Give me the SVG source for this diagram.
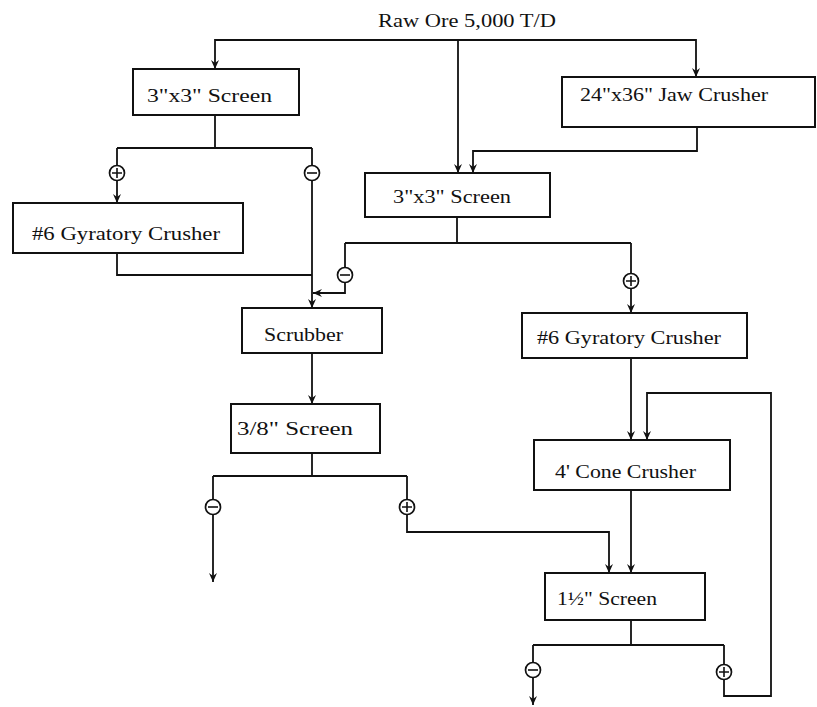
<svg xmlns="http://www.w3.org/2000/svg" width="817" height="707" viewBox="0 0 817 707">
<style>
.box{fill:#fff;stroke:#111;stroke-width:2}
.t{font-family:"Liberation Serif","DejaVu Serif",serif;font-size:19px;fill:#111}
.c{fill:none;stroke:#111;stroke-width:1.8}
.sg{fill:#fff;stroke:#111;stroke-width:1.7}
</style>
<defs>
<marker id="ar" viewBox="0 0 10 10" refX="9" refY="5" markerWidth="10" markerHeight="10" markerUnits="userSpaceOnUse" orient="auto">
<path d="M0,1 L9,5 L0,9 L3,5 Z" fill="#111"/>
</marker>
<g id="plus"><circle r="7.5" class="sg"/><path d="M-5,0 H5 M0,-5 V5" stroke="#111" stroke-width="1.6"/></g>
<g id="minus"><circle r="7.5" class="sg"/><path d="M-5,0 H5" stroke="#111" stroke-width="1.6"/></g>
</defs>
<rect width="817" height="707" fill="#fff"/>
<text class="t" x="378" y="27" textLength="178" lengthAdjust="spacingAndGlyphs">Raw Ore 5,000 T/D</text>
<g id="connectors" class="c">
<path d="M458,40 H215 V69" marker-end="url(#ar)"/>
<path d="M458,40 H696 V77" marker-end="url(#ar)"/>
<path d="M458,40 V173" marker-end="url(#ar)"/>
<path d="M697,127 V151 H473 V173" marker-end="url(#ar)"/>
<path d="M215,115 V148 M117,148 H312 M117,148 V166 M312,148 V166"/>
<path d="M117,180 V203" marker-end="url(#ar)"/>
<path d="M312,180 V308" marker-end="url(#ar)"/>
<path d="M117,253 V275 H312"/>
<path d="M457,217 V243 M345,243 H631 M345,243 V268 M631,243 V274"/>
<path d="M345,282 V293 H313" marker-end="url(#ar)"/>
<path d="M631,288 V313" marker-end="url(#ar)"/>
<path d="M312,353 V404" marker-end="url(#ar)"/>
<path d="M312,453 V476 M213,476 H407 M213,476 V500 M407,476 V500"/>
<path d="M213,514 V582" marker-end="url(#ar)"/>
<path d="M407,514 V532 H609 V573" marker-end="url(#ar)"/>
<path d="M631,358 V440" marker-end="url(#ar)"/>
<path d="M631,490 V573" marker-end="url(#ar)"/>
<path d="M631,620 V645 M533,645 H724 M533,645 V663 M724,645 V665"/>
<path d="M533,677 V705" marker-end="url(#ar)"/>
<path d="M724,679 V696 H771 V393 H647 V440" marker-end="url(#ar)"/>
</g>
<g id="signs">
<use href="#plus" x="117" y="173"/>
<use href="#minus" x="312" y="173"/>
<use href="#minus" x="345" y="275"/>
<use href="#plus" x="631" y="281"/>
<use href="#minus" x="213" y="507"/>
<use href="#plus" x="407" y="507"/>
<use href="#minus" x="533" y="670"/>
<use href="#plus" x="724" y="672"/>
</g>
<g id="screen1"><rect class="box" x="133" y="69" width="166" height="46"/><text class="t" x="147" y="102" textLength="125" lengthAdjust="spacingAndGlyphs">3"x3" Screen</text></g>
<g id="jaw"><rect class="box" x="562" y="77" width="253" height="50"/><text class="t" x="580" y="101" textLength="188" lengthAdjust="spacingAndGlyphs">24"x36" Jaw Crusher</text></g>
<g id="gyratory1"><rect class="box" x="13" y="203" width="230" height="50"/><text class="t" x="32" y="240" textLength="188" lengthAdjust="spacingAndGlyphs">#6 Gyratory Crusher</text></g>
<g id="screen2"><rect class="box" x="365" y="173" width="185" height="44"/><text class="t" x="393" y="203" textLength="118" lengthAdjust="spacingAndGlyphs">3"x3" Screen</text></g>
<g id="gyratory2"><rect class="box" x="522" y="313" width="225" height="45"/><text class="t" x="537" y="344" textLength="184" lengthAdjust="spacingAndGlyphs">#6 Gyratory Crusher</text></g>
<g id="scrubber"><rect class="box" x="242" y="308" width="140" height="45"/><text class="t" x="264" y="341" textLength="79" lengthAdjust="spacingAndGlyphs">Scrubber</text></g>
<g id="screen38"><rect class="box" x="231" y="404" width="149" height="49"/><text class="t" x="237" y="435" textLength="116" lengthAdjust="spacingAndGlyphs">3/8" Screen</text></g>
<g id="cone"><rect class="box" x="534" y="440" width="196" height="50"/><text class="t" x="555" y="478" textLength="141" lengthAdjust="spacingAndGlyphs">4' Cone Crusher</text></g>
<g id="screen112"><rect class="box" x="545" y="573" width="160" height="47"/><text class="t" x="557" y="605" textLength="100" lengthAdjust="spacingAndGlyphs">1½" Screen</text></g>
</svg>
